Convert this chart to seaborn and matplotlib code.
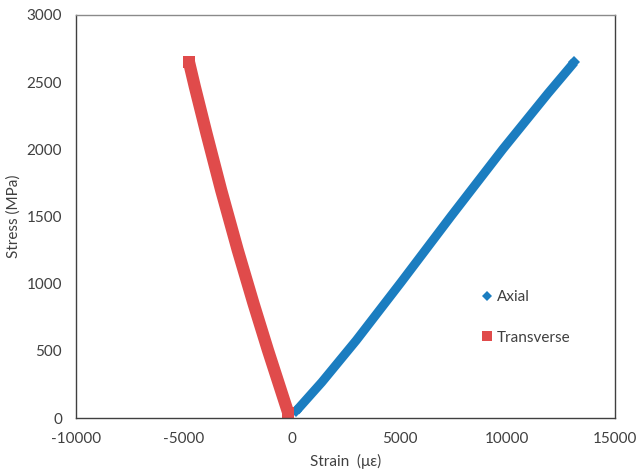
import matplotlib
matplotlib.use("Agg")
import matplotlib.pyplot as plt
from matplotlib.lines import Line2D
import pandas as pd
import seaborn as sns

# Axial gauge readings: strain (microstrain) and stress (MPa)
axial_strain = [200, 1400, 3000, 5080, 7390, 9800, 11890, 13120]
axial_stress = [50, 266, 578, 1011, 1501, 2002, 2416, 2650]

# Transverse gauge readings
trans_strain = [-150, -1100, -1770, -2500, -3270, -3950, -4490, -4760]
trans_stress = [35, 506, 854, 1251, 1698, 2120, 2467, 2650]

series_names = ["Axial", "Transverse"]
x_ticks = [-10000, -5000, 0, 5000, 10000, 15000]
y_ticks = [0, 500, 1000, 1500, 2000, 2500, 3000]

BLUE = "#1b7dc0"
RED = "#e04b4b"
FONT = ["Lato", "DejaVu Sans"]

sns.set_theme(style="white")
plt.rcParams["font.family"] = FONT
plt.rcParams["axes.unicode_minus"] = False
plt.rcParams["text.color"] = "#404040"
plt.rcParams["axes.labelcolor"] = "#404040"
plt.rcParams["xtick.color"] = "#404040"
plt.rcParams["ytick.color"] = "#404040"

axial_df = pd.DataFrame({"strain": axial_strain, "stress": axial_stress})
trans_df = pd.DataFrame({"strain": trans_strain, "stress": trans_stress})

fig = plt.figure(figsize=(6.38, 4.72), dpi=100)
ax = fig.add_axes([76 / 638, 1 - 418 / 472, (615 - 76) / 638, (418 - 15) / 472])

# thick polylines through the readings; end markers give the band its caps
sns.lineplot(data=axial_df, x="strain", y="stress", ax=ax, sort=False,
             estimator=None, color=BLUE, linewidth=6.5, marker="D",
             markersize=6.0, markeredgewidth=0, markevery=[0, -1],
             solid_capstyle="butt", solid_joinstyle="round")
sns.lineplot(data=trans_df, x="strain", y="stress", ax=ax, sort=False,
             estimator=None, color=RED, linewidth=8.8, marker="s",
             markersize=8.6, markeredgewidth=0, markevery=[0, -1],
             solid_capstyle="butt", solid_joinstyle="round")

ax.set_xlim(x_ticks[0], x_ticks[-1])
ax.set_ylim(y_ticks[0], y_ticks[-1])
ax.set_xticks(x_ticks)
ax.set_yticks(y_ticks)
ax.tick_params(axis="both", direction="in", length=3, width=0.8,
               labelsize=11, pad=10, color="#404040")
ax.tick_params(axis="x", top=False)
ax.tick_params(axis="y", right=False)

ax.set_xlabel("Strain  (\u03bc\u03b5)", fontsize=11, labelpad=6)
ax.set_ylabel("Stress (MPa)", fontsize=11, labelpad=4)

for side, sp in ax.spines.items():
    sp.set_visible(True)
    sp.set_linewidth(1.0)
    sp.set_color("#404040")
ax.spines["top"].set_color("#8a8a8a")

handles = [
    Line2D([], [], linestyle="none", marker="D", markersize=5.5,
           color=BLUE, markeredgewidth=0),
    Line2D([], [], linestyle="none", marker="s", markersize=7.5,
           color=RED, markeredgewidth=0),
]
ax.legend(handles, series_names, loc="upper left",
          bbox_to_anchor=(481 / 638, 1 - 290 / 472),
          bbox_transform=fig.transFigure, frameon=False, fontsize=11,
          handlelength=0.8, handletextpad=0.25, labelspacing=1.75,
          borderaxespad=0, borderpad=0)

fig.savefig("out.png", dpi=100)
